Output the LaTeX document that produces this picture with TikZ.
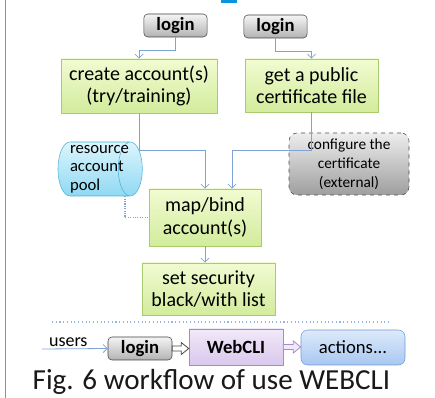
\documentclass[tikz,border=0pt]{standalone}
\usepackage{fontspec}
\setmainfont{Carlito}
\usetikzlibrary{shapes.geometric,arrows.meta,calc}

\definecolor{linkblue}{HTML}{7FA3D6}
\definecolor{grnline}{HTML}{A9CB6E}
\definecolor{grntop}{HTML}{F2FBD2}
\definecolor{grnbot}{HTML}{D2EC9C}
\definecolor{purline}{HTML}{A68ACB}
\definecolor{purtop}{HTML}{F1E9F9}
\definecolor{purbot}{HTML}{D9C8EC}
\definecolor{actline}{HTML}{6F9AD6}
\definecolor{acttop}{HTML}{DDEAFB}
\definecolor{actbot}{HTML}{A8C7F1}
\definecolor{poolline}{HTML}{4DB2D4}
\definecolor{pooltop}{HTML}{DCF5FD}
\definecolor{poolbot}{HTML}{8FD9F2}
\definecolor{frameline}{HTML}{7E92B6}

\tikzset{
	box/.style={draw, inner sep=0pt, align=center, text=black,
		font=\fontsize{15}{17}\selectfont},
	greenbox/.style={box, draw=grnline, top color=grntop, bottom color=grnbot},
	loginbox/.style={box, rounded corners=3pt, draw=black!75, top color=black!4,
		bottom color=black!30, minimum width=47.5pt, minimum height=17.25pt,
		font=\fontsize{14}{16}\selectfont\bfseries},
	link/.style={draw=linkblue, line width=0.6pt, -{Straight Barb[length=3pt,width=6pt]}},
	hollowarrow/.style={draw=black!70, fill=white, line width=0.6pt, line join=miter},
}

\begin{document}
\begin{tikzpicture}[x=0.75pt,y=-0.75pt]
	\useasboundingbox (0,0) rectangle (435,398);
	% frame bits
	\draw[frameline, line width=1pt] (5.5,0) -- (5.5,398);
	\fill[cyan!80!blue] (221,0) rectangle (237,3);

	% upper part
	\node[loginbox] (login1) at (175.5,25.5) {login};
	\node[loginbox] (login2) at (275.5,26.5) {login};
	\node[greenbox, minimum width=117pt, minimum height=40.5pt] (create) at (139,86)
		{create account(s)\\(try/training)};
	\node[greenbox, minimum width=99.75pt, minimum height=39.75pt] (cert) at (311.5,85.5)
		{get a public\\certificate file};
	\node[box, dashed, rounded corners=6pt, draw=black!70, top color=black!7,
		bottom color=black!38, minimum width=90pt, minimum height=46.5pt,
		font=\fontsize{11.5}{14.3}\selectfont] (config) at (349,164)
		{configure the\\certificate\\(external)};
	\node[box, cylinder, draw=poolline, top color=pooltop, bottom color=poolbot,
		minimum width=40.5pt, minimum height=60pt, aspect=0.5, text width=36pt,
		align=left, font=\fontsize{12.5}{14}\selectfont] (pool) at (94,169)
		{resource\\account\\pool};
	\node[greenbox, minimum width=84pt, minimum height=42.75pt] (map) at (205,217.5)
		{map/bind\\account(s)};
	\node[greenbox, minimum width=99.75pt, minimum height=39pt] (sec) at (208.5,289)
		{set security\\black/with list};

	\draw[link] (login1.south) -- ++(0,13) -| (create.north);
	\draw[link] (login2.south) -- ++(0,13) -| (cert.north);
	\draw[link] (create.south) -- ++(0,37) -| (map.north);
	\draw[link] (cert.south) -- ++(0,38) -| ($(map.north)+(27,0)$);
	\draw[linkblue, densely dotted, line width=0.8pt] ($(pool.south)+(31,0)$) |- (map.west);
	\draw[link] (map.south) -- (map.south |- sec.north);

	% separator
	\draw[linkblue!80, dotted, line width=0.8pt] (52,322) -- (390,322);

	% lower part
	\node[loginbox, minimum width=48pt] (login3) at (140,348.5) {login};
	\node[box, draw=purline, top color=purtop, bottom color=purbot,
		minimum width=70.5pt, minimum height=27pt,
		font=\fontsize{14}{16}\selectfont\bfseries] (web) at (236,347) {WebCLI};
	\node[box, rounded corners=5pt, draw=actline, top color=acttop, bottom color=actbot,
		minimum width=78pt, minimum height=26.25pt,
		font=\fontsize{14}{16}\selectfont] (actions) at (353,347.5) {actions...};
	\coordinate (userin) at (42,349);
	\draw[link] (userin) -- node[above, pos=0.4, inner sep=1pt,
		font=\fontsize{13.5}{15}\selectfont] (users) {users} (login3.west);

	\draw[hollowarrow] ($(login3.east)+(0,-2.5)$) -- ++(9,0) -- ++(0,-3.5)
		-- (web.west |- login3.east) -- ($(login3.east)+(9,6)$) -- ++(0,-3.5)
		-- ($(login3.east)+(0,2.5)$) -- cycle;
	\draw[hollowarrow, draw=purline, fill=purtop] ($(web.east)+(0,-2.5)$) -- ++(10,0)
		-- ++(0,-3.5) -- (actions.west |- web.east) -- ($(web.east)+(10,6)$)
		-- ++(0,-3.5) -- ($(web.east)+(0,2.5)$) -- cycle;

	% caption
	\node[font=\fontsize{21.8}{24}\selectfont, text=black!90] (caption) at (211.5,382)
		{Fig. 6 workflow of use WEBCLI};
\end{tikzpicture}
\end{document}
